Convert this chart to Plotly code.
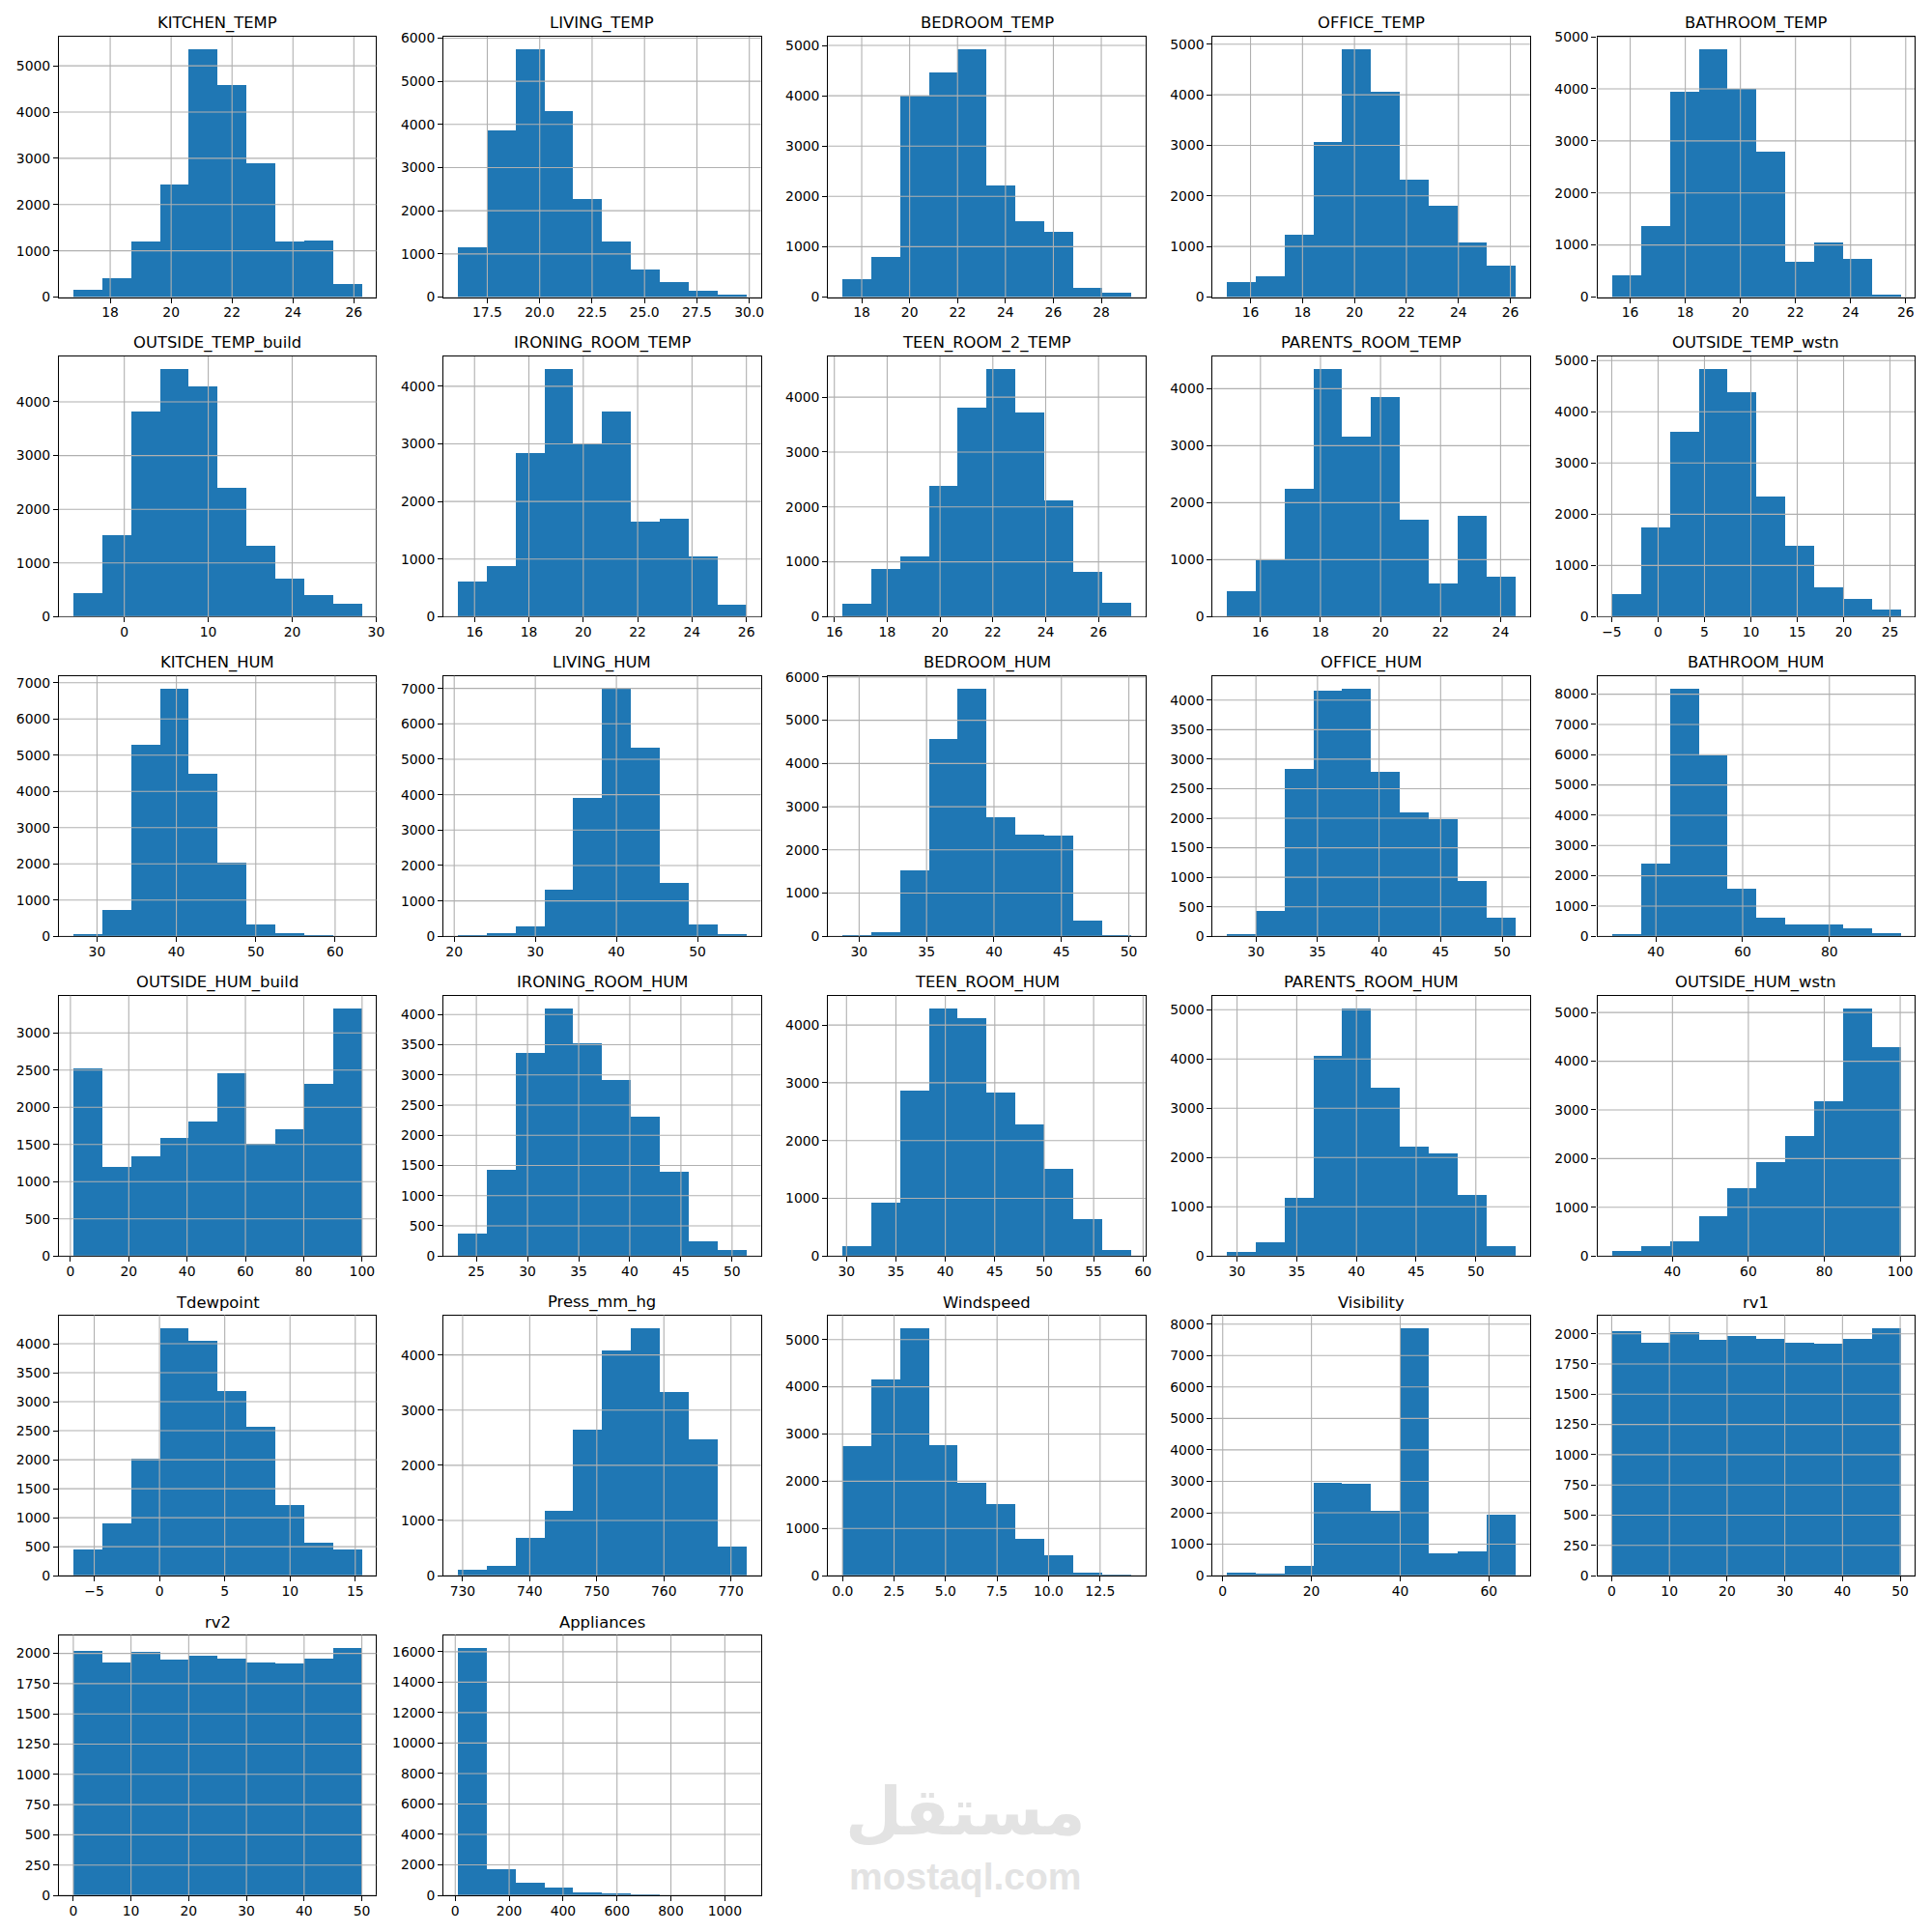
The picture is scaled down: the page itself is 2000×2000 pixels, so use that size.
import numpy as np
import plotly.graph_objects as go
from plotly.subplots import make_subplots

# column names, in drawing order
titles = [
    "KITCHEN_TEMP", "LIVING_TEMP", "BEDROOM_TEMP", "OFFICE_TEMP", "BATHROOM_TEMP",
    "OUTSIDE_TEMP_build", "IRONING_ROOM_TEMP", "TEEN_ROOM_2_TEMP", "PARENTS_ROOM_TEMP", "OUTSIDE_TEMP_wstn",
    "KITCHEN_HUM", "LIVING_HUM", "BEDROOM_HUM", "OFFICE_HUM", "BATHROOM_HUM",
    "OUTSIDE_HUM_build", "IRONING_ROOM_HUM", "TEEN_ROOM_HUM", "PARENTS_ROOM_HUM", "OUTSIDE_HUM_wstn",
    "Tdewpoint", "Press_mm_hg", "Windspeed", "Visibility", "rv1",
    "rv2", "Appliances",
]

# first and last bin edge of each histogram
x_min = [16.79, 16.1, 17.2, 15.1, 15.33, -6.07, 15.39, 16.31, 14.89, -5.0,
         27.02, 20.46, 28.77, 27.66, 29.82, 1.0, 23.2, 29.6, 29.17, 24.0,
         -6.6, 729.3, 0.0, 1.0, 0.005, 0.005, 10.0]
x_max = [26.26, 29.86, 29.24, 26.2, 25.8, 28.29, 26.0, 27.23, 24.5, 26.1,
         63.36, 56.03, 50.16, 51.09, 96.32, 99.9, 51.4, 58.78, 53.33, 100.0,
         15.5, 772.3, 14.0, 66.0, 49.997, 49.997, 1080.0]

# bin counts
kitchen_temp = [163, 416, 1193, 2441, 5362, 4584, 2902, 1193, 1212, 280]
living_temp = [1163, 3866, 5746, 4312, 2277, 1298, 630, 339, 136, 48]
bedroom_temp = [347, 798, 4000, 4468, 4927, 2226, 1500, 1290, 177, 80]
office_temp = [289, 409, 1228, 3058, 4904, 4069, 2327, 1798, 1075, 618]
bathroom_temp = [413, 1372, 3953, 4764, 3992, 2799, 671, 1045, 725, 39]
outside_temp_build = [444, 1513, 3813, 4616, 4296, 2409, 1326, 717, 398, 234]
ironing_temp = [618, 873, 2851, 4305, 2996, 3556, 1658, 1695, 1040, 204]
teen_temp = [229, 865, 1094, 2388, 3815, 4518, 3726, 2129, 813, 251]
parents_temp = [441, 1003, 2249, 4349, 3167, 3858, 1708, 577, 1779, 697]
outside_temp_wstn = [451, 1735, 3612, 4840, 4388, 2352, 1378, 570, 356, 135]
kitchen_hum = [56, 728, 5297, 6842, 4479, 2027, 325, 90, 34, 8]
living_hum = [34, 92, 276, 1322, 3908, 7000, 5333, 1506, 333, 57]
bedroom_hum = [28, 94, 1521, 4582, 5737, 2770, 2366, 2347, 366, 28]
office_hum = [34, 426, 2832, 4165, 4199, 2784, 2110, 1993, 935, 316]
bathroom_hum = [67, 2399, 8190, 5979, 1568, 617, 389, 389, 268, 107]
outside_hum_build = [2531, 1195, 1347, 1593, 1806, 2466, 1511, 1713, 2324, 3333]
ironing_hum = [370, 1439, 3375, 4108, 3529, 2924, 2319, 1405, 242, 101]
teen_hum = [183, 921, 2875, 4295, 4127, 2840, 2292, 1518, 640, 105]
parents_hum = [82, 280, 1194, 4069, 5033, 3427, 2216, 2092, 1252, 214]
outside_hum_wstn = [100, 200, 317, 833, 1408, 1925, 2475, 3192, 5092, 4300]
tdewpoint = [454, 903, 2017, 4277, 4061, 3197, 2582, 1219, 571, 454]
press_mm_hg = [116, 186, 692, 1180, 2645, 4093, 4494, 3343, 2471, 535]
windspeed = [2762, 4170, 5252, 2782, 1966, 1517, 782, 435, 68, 27]
visibility = [112, 71, 317, 2952, 2921, 2063, 7886, 715, 776, 1941]
rv1 = [2027, 1931, 2019, 1955, 1987, 1963, 1931, 1923, 1963, 2050]
rv2 = [2027, 1931, 2019, 1955, 1987, 1963, 1931, 1923, 1963, 2050]
appliances = [16287, 1751, 844, 527, 211, 148, 84, 20, 10, 5]

counts = [
    kitchen_temp, living_temp, bedroom_temp, office_temp, bathroom_temp,
    outside_temp_build, ironing_temp, teen_temp, parents_temp, outside_temp_wstn,
    kitchen_hum, living_hum, bedroom_hum, office_hum, bathroom_hum,
    outside_hum_build, ironing_hum, teen_hum, parents_hum, outside_hum_wstn,
    tdewpoint, press_mm_hg, windspeed, visibility, rv1,
    rv2, appliances,
]

# tick values of each panel
x_ticks = [
    [18, 20, 22, 24, 26], [17.5, 20, 22.5, 25, 27.5, 30], [18, 20, 22, 24, 26, 28],
    [16, 18, 20, 22, 24, 26], [16, 18, 20, 22, 24, 26],
    [0, 10, 20, 30], [16, 18, 20, 22, 24, 26], [16, 18, 20, 22, 24, 26],
    [16, 18, 20, 22, 24], [-5, 0, 5, 10, 15, 20, 25],
    [30, 40, 50, 60], [20, 30, 40, 50], [30, 35, 40, 45, 50], [30, 35, 40, 45, 50], [40, 60, 80],
    [0, 20, 40, 60, 80, 100], [25, 30, 35, 40, 45, 50], [30, 35, 40, 45, 50, 55, 60],
    [30, 35, 40, 45, 50], [40, 60, 80, 100],
    [-5, 0, 5, 10, 15], [730, 740, 750, 760, 770], [0, 2.5, 5, 7.5, 10, 12.5], [0, 20, 40, 60],
    [0, 10, 20, 30, 40, 50],
    [0, 10, 20, 30, 40, 50], [0, 200, 400, 600, 800, 1000],
]
y_tick_step = [1000, 1000, 1000, 1000, 1000,
               1000, 1000, 1000, 1000, 1000,
               1000, 1000, 1000, 500, 1000,
               500, 500, 1000, 1000, 1000,
               500, 1000, 1000, 1000, 250,
               250, 2000]

BLUE = "#1f77b4"
GRID = "#b0b0b0"
FONT = "DejaVu Sans"

fig = make_subplots(
    rows=6, cols=5,
    horizontal_spacing=70 / 1930,
    vertical_spacing=61.4 / 1924,
    subplot_titles=titles,
)

for i, name in enumerate(titles):
    row, col = i // 5 + 1, i % 5 + 1
    edges = np.linspace(x_min[i], x_max[i], len(counts[i]) + 1)
    fig.add_trace(
        go.Bar(x=edges[:-1], y=counts[i], width=np.diff(edges), offset=0,
               marker_color=BLUE, marker_line_width=0, name=name),
        row=row, col=col,
    )

    pad = (x_max[i] - x_min[i]) * 0.05
    top = max(counts[i]) * 1.05
    y_ticks = np.arange(0, top, y_tick_step[i])
    decimals = ".1f" if any(t % 1 for t in x_ticks[i]) else "d"
    fig.update_xaxes(range=[x_min[i] - pad, x_max[i] + pad], tickvals=x_ticks[i],
                     tickformat=decimals, showgrid=False, row=row, col=col)
    fig.update_yaxes(range=[0, top], tickvals=y_ticks, tickformat="d",
                     showgrid=False, row=row, col=col)

    # plotly keeps its own grid under the bars, matplotlib had it on top
    for t in x_ticks[i]:
        fig.add_vline(x=t, line_color=GRID, line_width=1.1, layer="above", row=row, col=col)
    for t in y_ticks:
        fig.add_hline(y=t, line_color=GRID, line_width=1.1, layer="above", row=row, col=col)

fig.update_xaxes(showline=True, mirror=True, linecolor="black", linewidth=1.1, zeroline=False,
                 ticks="outside", ticklen=5, tickwidth=1.1, tickcolor="black", ticklabelstandoff=-2,
                 tickfont=dict(family=FONT, size=13.9, color="black"))
fig.update_yaxes(showline=True, mirror=True, linecolor="black", linewidth=1.1, zeroline=False,
                 ticks="outside", ticklen=5, tickwidth=1.1, tickcolor="black",
                 tickfont=dict(family=FONT, size=13.9, color="black"))

for ann in fig.layout.annotations:
    ann.font = dict(family=FONT, size=16.4, color="black")
    ann.yshift = 2

# site watermark, lower middle of the page
fig.add_annotation(text="<b>مستقل</b>", xref="paper", yref="paper", x=0.4888, y=0.0235,
                   showarrow=False, font=dict(family=FONT, size=68, color="#e3e3e3"))
fig.add_annotation(text="<b>mostaql.com</b>", xref="paper", yref="paper", x=0.4888, y=-0.0021,
                   showarrow=False, font=dict(family="Liberation Sans", size=39, color="#e3e3e3"))

fig.update_layout(
    width=2000, height=2000,
    margin=dict(l=61, r=9, t=38, b=38),
    bargap=0,
    showlegend=False,
    plot_bgcolor="white",
    paper_bgcolor="white",
)

# drop the default 8px body margin so the figure fills the window exactly
fig.write_html("out.html", config={"displayModeBar": False},
               post_script="document.body.style.margin = '0';")
